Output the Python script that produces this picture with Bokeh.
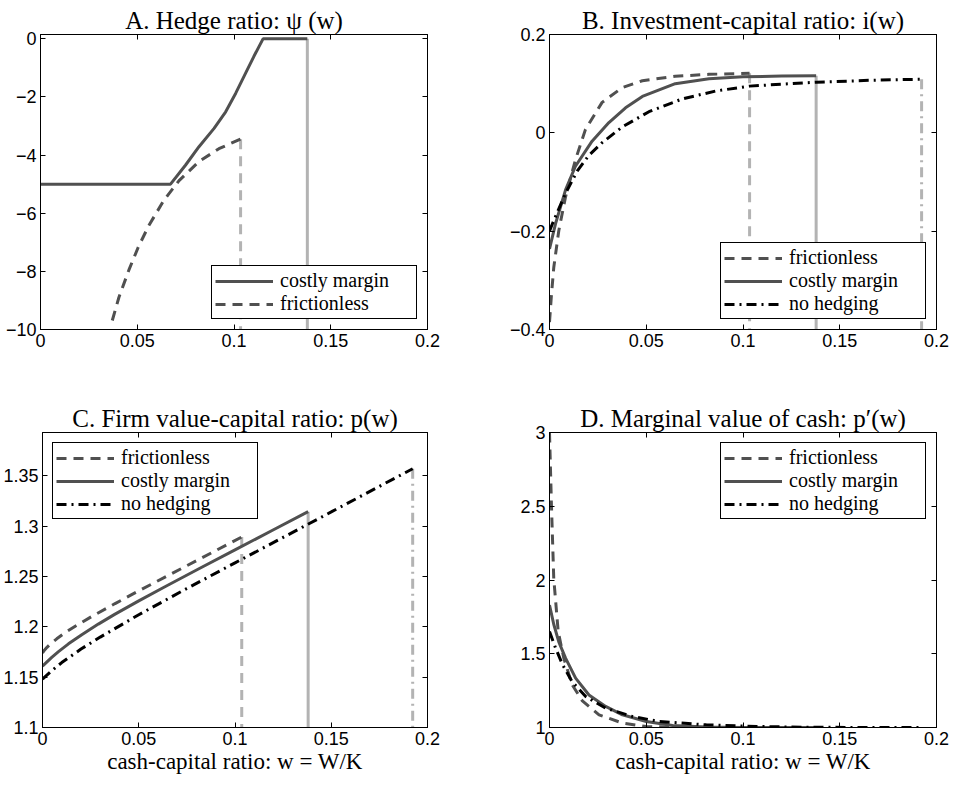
from bokeh.plotting import figure
from bokeh.layouts import column, row
from bokeh.models import (LinearAxis, FixedTicker, CustomJSTickFormatter, Range1d,
                          Legend, LegendItem)
from bokeh.embed import file_html
from bokeh.resources import INLINE

# ---------------- data ----------------
x_ticks = [0, 0.05, 0.1, 0.15, 0.2]

# Panel A: hedge ratio psi(w)
wA_costly = [0.0, 0.0672, 0.075, 0.0819, 0.0897, 0.0957, 0.1009, 0.106, 0.1103, 0.115, 0.1379]
psiA_costly = [-5.0, -5.0, -4.34, -3.71, -3.08, -2.51, -1.87, -1.18, -0.60, 0.0, 0.0]
wA_fric = [0.0371, 0.0405, 0.0457, 0.0505, 0.056, 0.0638, 0.0716, 0.0819, 0.0922, 0.1034]
psiA_fric = [-9.69, -8.90, -7.95, -7.17, -6.42, -5.55, -4.88, -4.22, -3.78, -3.45]
yA_ticks = [-10, -8, -6, -4, -2, 0]

# Panel B: investment-capital ratio i(w)
wB_fric = [0.0, 0.001, 0.0022, 0.0048, 0.0083, 0.0134, 0.0186, 0.0272, 0.0376, 0.048, 0.065, 0.0824, 0.1034]
iB_fric = [-0.385, -0.33, -0.274, -0.199, -0.130, -0.055, 0.007, 0.062, 0.092, 0.106, 0.115, 0.119, 0.121]
wB_costly = [0.0, 0.0031, 0.0083, 0.0134, 0.022, 0.0307, 0.0393, 0.048, 0.065, 0.0824, 0.1, 0.12, 0.1378]
iB_costly = [-0.236, -0.185, -0.116, -0.068, -0.017, 0.021, 0.051, 0.074, 0.100, 0.110, 0.114, 0.1155, 0.116]
wB_nohedge = [0.0, 0.0014, 0.004, 0.0083, 0.0143, 0.0203, 0.0272, 0.0376, 0.0514, 0.0686, 0.0859, 0.1033, 0.1378, 0.167, 0.1923]
iB_nohedge = [-0.200, -0.186, -0.162, -0.123, -0.078, -0.046, -0.020, 0.012, 0.043, 0.069, 0.085, 0.095, 0.103, 0.107, 0.109]
yB_ticks = [-0.4, -0.2, 0, 0.2]

# Panel C: firm value-capital ratio p(w)
wC_fric = [0.0, 0.001, 0.0022, 0.0045, 0.0074, 0.0117, 0.017, 0.0256, 0.0377, 0.05, 0.075, 0.1035]
pC_fric = [1.174, 1.1768, 1.1794, 1.1836, 1.1881, 1.1941, 1.2006, 1.2103, 1.2231, 1.2357, 1.2607, 1.2892]
wC_costly = [0.0, 0.0048, 0.0083, 0.0135, 0.0204, 0.029, 0.0377, 0.05, 0.0636, 0.081, 0.1, 0.12, 0.138]
pC_costly = [1.161, 1.1697, 1.1754, 1.1831, 1.1922, 1.2027, 1.2126, 1.2258, 1.2398, 1.2574, 1.2764, 1.2964, 1.3144]
wC_nohedge = [0.0, 0.005, 0.01, 0.02, 0.03, 0.05, 0.075, 0.1, 0.125, 0.15, 0.175, 0.1923]
pC_nohedge = [1.148, 1.1566, 1.1645, 1.1779, 1.1898, 1.212, 1.2381, 1.2635, 1.2888, 1.3141, 1.3395, 1.357]
yC_ticks = [1.1, 1.15, 1.2, 1.25, 1.3, 1.35]

# Panel D: marginal value of cash p'(w)
wD_fric = [0.0, 0.001, 0.0022, 0.0045, 0.0074, 0.0117, 0.017, 0.0256, 0.0377, 0.05, 0.065, 0.08, 0.1035]
dD_fric = [3.0, 2.51, 2.01, 1.65, 1.47, 1.29, 1.18, 1.086, 1.03, 1.007, 1.001, 1.0, 1.0]
wD_costly = [0.0, 0.0022, 0.0048, 0.0083, 0.0135, 0.0204, 0.029, 0.0377, 0.05, 0.0636, 0.081, 0.1, 0.138]
dD_costly = [1.83, 1.70, 1.58, 1.47, 1.335, 1.22, 1.143, 1.086, 1.041, 1.014, 1.003, 1.0, 1.0]
wD_nohedge = [0.0, 0.0031, 0.0066, 0.0117, 0.0187, 0.029, 0.0428, 0.0566, 0.081, 0.107, 0.133, 0.16, 0.1923]
dD_nohedge = [1.65, 1.54, 1.43, 1.31, 1.21, 1.131, 1.075, 1.041, 1.018, 1.007, 1.002, 1.0, 1.0]
yD_ticks = [1, 1.5, 2, 2.5, 3]

# ---------------- style ----------------
DARK = "#505050"
LIGHT = "#b3b3b3"
BLACK = "#000000"
DASH = "10 7"
DASHDOT = "10 5 2 5"
LW = 3
SERIF = "Liberation Serif"
SANS = "Liberation Sans"
TICK_FS = "18px"

FMT = CustomJSTickFormatter(code="""
const v = Math.round(tick*10000)/10000;
const s = String(Math.abs(v));
return v < 0 ? '\u2212' + s : s;
""")
BLANK = CustomJSTickFormatter(code="return '';")

FRAME_W = 387
FRAME_H = 295


def make_fig(title, yr, yticks, bl, br, bt, bb, xlabel=None):
    p = figure(width=bl + FRAME_W + br, height=bt + FRAME_H + bb,
               x_range=Range1d(0, 0.2), y_range=Range1d(*yr),
               output_backend="svg", toolbar_location=None,
               min_border_left=bl, min_border_right=br,
               min_border_top=bt, min_border_bottom=bb,
               title=title)
    p.title.align = "center"
    p.title.text_font = SERIF
    p.title.text_font_size = "25px"
    p.title.text_font_style = "normal"
    p.title.text_color = "black"
    p.title.standoff = 2
    p.xgrid.visible = False
    p.ygrid.visible = False
    p.outline_line_color = "black"
    p.outline_line_width = 1
    p.outline_line_alpha = 1
    p.background_fill_color = "white"
    p.border_fill_color = "white"
    for ax, ticks in ((p.xaxis[0], x_ticks), (p.yaxis[0], yticks)):
        ax.ticker = FixedTicker(ticks=ticks)
        ax.formatter = FMT
        ax.major_tick_in = 5
        ax.major_tick_out = 0
        ax.minor_tick_line_color = None
        ax.axis_line_color = "black"
        ax.major_tick_line_color = "black"
        ax.major_label_text_font = SANS
        ax.major_label_text_font_size = TICK_FS
        ax.major_label_text_color = "black"
        ax.major_label_standoff = 4
    if xlabel:
        p.xaxis[0].axis_label = xlabel
        p.xaxis[0].axis_label_text_font = SERIF
        p.xaxis[0].axis_label_text_font_size = "23px"
        p.xaxis[0].axis_label_text_font_style = "normal"
        p.xaxis[0].axis_label_text_color = "black"
        p.xaxis[0].axis_label_standoff = 1
    for loc, ticks in (("above", x_ticks), ("right", yticks)):
        ax = LinearAxis(ticker=FixedTicker(ticks=ticks), formatter=BLANK,
                        major_label_text_font_size="1px", major_label_standoff=0,
                        major_tick_in=5, major_tick_out=0,
                        minor_tick_line_color=None, axis_line_color="black")
        p.add_layout(ax, loc)
    return p


def add_legend(p, items, location):
    lg = Legend(items=[LegendItem(label=lab, renderers=[r]) for lab, r in items],
                location=location)
    lg.margin = 10
    lg.padding = 3
    lg.spacing = 0
    lg.glyph_width = 58
    lg.glyph_height = 14
    lg.label_standoff = 7
    lg.label_width = 133
    lg.label_height = 12
    lg.label_text_font = SERIF
    lg.label_text_font_size = "20px"
    lg.label_text_font_style = "normal"
    lg.label_text_color = "black"
    lg.border_line_color = "black"
    lg.border_line_width = 1
    lg.border_line_alpha = 1
    lg.background_fill_color = "white"
    lg.background_fill_alpha = 1
    p.add_layout(lg)


# ---------------- panel A ----------------
pA = make_fig("A. Hedge ratio: ψ (w)", (-10, 0.15), yA_ticks, 40, 45, 34, 61)
pA.segment(x0=[wA_fric[-1]], y0=[psiA_fric[-1]], x1=[wA_fric[-1]], y1=[-10],
           line_color=LIGHT, line_width=LW, line_dash=DASH)
pA.segment(x0=[wA_costly[-1]], y0=[psiA_costly[-1]], x1=[wA_costly[-1]], y1=[-10],
           line_color=LIGHT, line_width=LW)
rA_f = pA.line(wA_fric, psiA_fric, line_color=DARK, line_width=LW, line_dash=DASH)
rA_c = pA.line(wA_costly, psiA_costly, line_color=DARK, line_width=LW)
add_legend(pA, [("costly margin", rA_c), ("frictionless", rA_f)], "bottom_right")

# ---------------- panel B ----------------
pB = make_fig("B. Investment-capital ratio: i(w)", (-0.4, 0.2), yB_ticks, 77, 16, 34, 61)
pB.segment(x0=[wB_fric[-1]], y0=[iB_fric[-1]], x1=[wB_fric[-1]], y1=[-0.4],
           line_color=LIGHT, line_width=LW, line_dash=DASH)
pB.segment(x0=[wB_costly[-1]], y0=[iB_costly[-1]], x1=[wB_costly[-1]], y1=[-0.4],
           line_color=LIGHT, line_width=LW)
pB.segment(x0=[wB_nohedge[-1]], y0=[iB_nohedge[-1]], x1=[wB_nohedge[-1]], y1=[-0.4],
           line_color=LIGHT, line_width=LW, line_dash=DASHDOT)
rB_f = pB.line(wB_fric, iB_fric, line_color=DARK, line_width=LW, line_dash=DASH)
rB_c = pB.line(wB_costly, iB_costly, line_color=DARK, line_width=LW)
rB_n = pB.line(wB_nohedge, iB_nohedge, line_color=BLACK, line_width=LW, line_dash=DASHDOT)
add_legend(pB, [("frictionless", rB_f), ("costly margin", rB_c), ("no hedging", rB_n)],
           "bottom_right")

# ---------------- panel C ----------------
XL = "cash-capital ratio: w = W/K"
pC = make_fig("C. Firm value-capital ratio: p(w)", (1.1, 1.393), yC_ticks, 40, 45, 42, 52, XL)
pC.segment(x0=[wC_fric[-1]], y0=[pC_fric[-1]], x1=[wC_fric[-1]], y1=[1.1],
           line_color=LIGHT, line_width=LW, line_dash=DASH)
pC.segment(x0=[wC_costly[-1]], y0=[pC_costly[-1]], x1=[wC_costly[-1]], y1=[1.1],
           line_color=LIGHT, line_width=LW)
pC.segment(x0=[wC_nohedge[-1]], y0=[pC_nohedge[-1]], x1=[wC_nohedge[-1]], y1=[1.1],
           line_color=LIGHT, line_width=LW, line_dash=DASHDOT)
rC_f = pC.line(wC_fric, pC_fric, line_color=DARK, line_width=LW, line_dash=DASH)
rC_c = pC.line(wC_costly, pC_costly, line_color=DARK, line_width=LW)
rC_n = pC.line(wC_nohedge, pC_nohedge, line_color=BLACK, line_width=LW, line_dash=DASHDOT)
add_legend(pC, [("frictionless", rC_f), ("costly margin", rC_c), ("no hedging", rC_n)],
           "top_left")

# ---------------- panel D ----------------
pD = make_fig("D. Marginal value of cash: p′(w)", (1, 3), yD_ticks, 77, 16, 42, 52, XL)
rD_f = pD.line(wD_fric, dD_fric, line_color=DARK, line_width=LW, line_dash=DASH)
rD_c = pD.line(wD_costly, dD_costly, line_color=DARK, line_width=LW)
rD_n = pD.line(wD_nohedge, dD_nohedge, line_color=BLACK, line_width=LW, line_dash=DASHDOT)
add_legend(pD, [("frictionless", rD_f), ("costly margin", rD_c), ("no hedging", rD_n)],
           "top_right")

layout = column(row(pA, pB), row(pC, pD))
open("out.html", "w").write(file_html(layout, INLINE))
